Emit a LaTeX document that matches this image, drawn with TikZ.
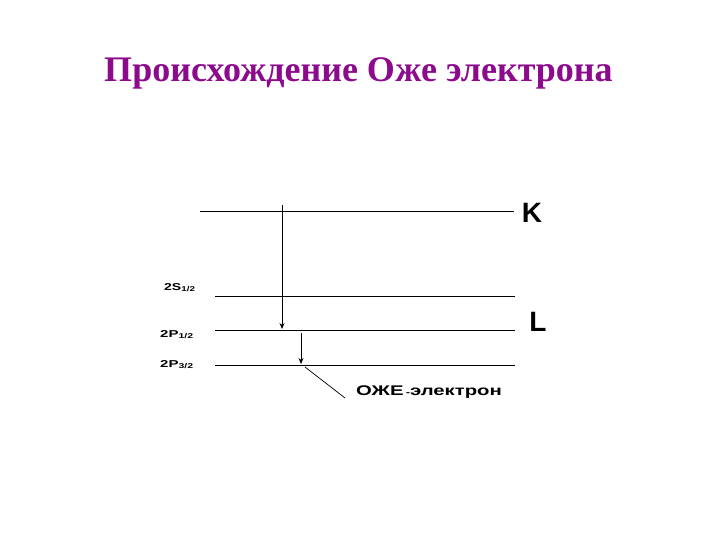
\documentclass[tikz,border=0pt]{standalone}
\usepackage{fontspec}
\setmainfont{Liberation Serif}
\newfontfamily\lsans{Liberation Sans}
\usetikzlibrary{arrows.meta}
\definecolor{titlepurple}{RGB}{140,10,140}
\tikzset{
  level/.style={line width=0.7pt},
  trans/.style={line width=0.7pt,-{Stealth[length=6pt,width=5pt]}},
  lbl/.style={font=\lsans\bfseries\fontsize{10}{12}\selectfont,inner sep=0pt,anchor=base west},
  shell/.style={font=\lsans\bfseries\fontsize{28}{30}\selectfont,inner sep=0pt}
}
\begin{document}
\begin{tikzpicture}[x=1pt,y=-1pt]
\useasboundingbox (0,0) rectangle (720,540);
\node[font=\bfseries\fontsize{36}{40}\selectfont,text=titlepurple,inner sep=0pt,anchor=base] (title) at (358.5,82) {Происхождение Оже электрона};
% levels
\coordinate (k1) at (200,211); \coordinate (k2) at (514,211);
\coordinate (s1) at (215,296); \coordinate (s2) at (515,296);
\coordinate (p1) at (215,330); \coordinate (p2) at (515,330);
\coordinate (q1) at (215,365); \coordinate (q2) at (515,365);
\draw[level] (k1) -- (k2);
\draw[level] (s1) -- (s2);
\draw[level] (p1) -- (p2);
\draw[level] (q1) -- (q2);
% shell labels
\node[shell] (K) at (532,213) {K};
\node[shell] (L) at (538,322) {L};
% sublevel labels
\node[lbl] (s) at (164,290) {\scalebox{1.4}[1]{2S\textsubscript{1/2}}};
\node[lbl] (p) at (160,337) {\scalebox{1.5}[1]{2P\textsubscript{1/2}}};
\node[lbl] (q) at (160,367) {\scalebox{1.5}[1]{2P\textsubscript{3/2}}};
% transitions
\coordinate (a1) at (282,205); \coordinate (a2) at (282,329);
\coordinate (b1) at (301,333); \coordinate (b2) at (301,364);
\draw[trans] (a1) -- (a2);
\draw[trans] (b1) -- (b2);
\node[font=\lsans\bfseries\fontsize{14}{16}\selectfont,inner sep=0pt,anchor=base west] (auger) at (356,395) {\scalebox{1.45}[1]{ОЖЕ{\fontsize{9}{10}\selectfont\,-}электрон}};
\coordinate (e1) at (305,367); \coordinate (e2) at (345,398);
\draw[level] (e1) -- (e2);
\end{tikzpicture}
\end{document}
